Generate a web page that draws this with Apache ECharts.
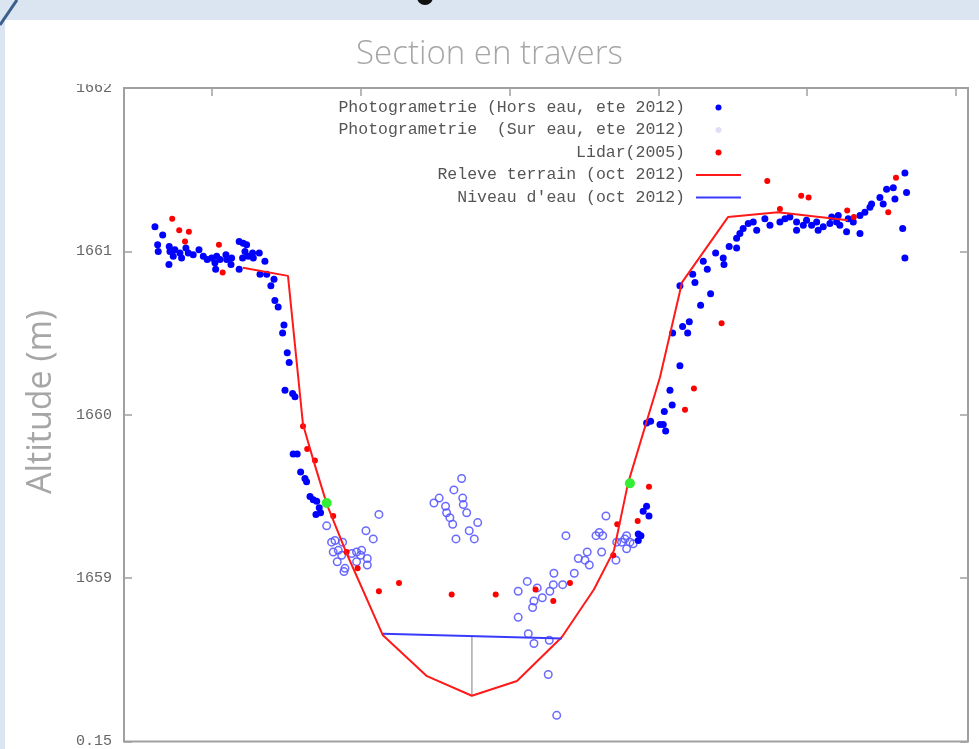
<!DOCTYPE html>
<html>
<head>
<meta charset="utf-8">
<script src="https://cdn.jsdelivr.net/npm/echarts@6/dist/echarts.min.js"></script>
<style>
  html, body { margin: 0; padding: 0; background: #dbe5f1; overflow: hidden; }
  #panel { position: absolute; left: 5px; top: 20px; width: 974px; height: 729px; background: #fff; }
  #chart { position: absolute; left: 0; top: 0; width: 979px; height: 749px; }
</style>
</head>
<body>
<div id="panel"></div>
<div id="chart"></div>
<script>
// cross-section data: x = distance (m), y = altitude (m)
const photoHorsEau = [
  [6.17,1661.15],[6.69,1661.10],[6.35,1661.04],[6.39,1661.00],[7.13,1661.03],[7.18,1661.00],[7.11,1660.92],
  [7.51,1661.01],[7.40,1660.97],[7.85,1660.99],[7.96,1660.96],[8.25,1661.02],[8.41,1660.99],[8.74,1660.98],
  [9.13,1661.01],[9.42,1660.97],[9.68,1660.95],[9.98,1660.96],[10.20,1660.93],[10.32,1660.97],[10.54,1660.95],
  [10.25,1660.89],[10.94,1660.98],[10.99,1660.95],[11.32,1660.96],[11.28,1660.92],[11.83,1661.06],[12.10,1661.05],
  [12.33,1661.04],[12.22,1661.00],[12.06,1660.96],[11.83,1660.89],[12.44,1660.97],[12.73,1660.99],[12.78,1660.96],
  [13.18,1660.99],[13.56,1660.94],[13.23,1660.86],[13.68,1660.86],[14.17,1660.83],[13.96,1660.79],[14.23,1660.70],
  [14.45,1660.66],[14.84,1660.55],[14.75,1660.50],[15.06,1660.38],[15.19,1660.32],[14.91,1660.15],[15.42,1660.13],
  [15.58,1660.11],[15.46,1659.76],[15.73,1659.76],[15.96,1659.65],[16.25,1659.61],[16.36,1659.59],[16.59,1659.50],
  [16.81,1659.48],[17.04,1659.47],[17.21,1659.43],[16.99,1659.39],[17.30,1659.40],
  [38.65,1659.23],[38.83,1659.26],[38.65,1659.27],[39.37,1659.38],[38.98,1659.41],[39.21,1659.44],
  [40.49,1659.90],[40.33,1659.94],[40.11,1659.94],[39.48,1659.96],[39.21,1659.95],[40.40,1660.02],[40.93,1660.06],
  [40.78,1660.15],[41.45,1660.30],[40.96,1660.50],[41.97,1660.50],[41.63,1660.54],[42.08,1660.57],[42.84,1660.67],
  [43.51,1660.74],[41.45,1660.79],[42.46,1660.81],[42.31,1660.86],[43.29,1660.89],[43.02,1660.94],[44.41,1660.92],
  [44.36,1660.96],[43.85,1660.99],[44.76,1661.03],[45.26,1661.02],[45.26,1661.08],[45.48,1661.11],[45.70,1661.14],
  [46.04,1661.17],[46.38,1661.18],[46.61,1661.13],[47.16,1661.20],[47.50,1661.16],[48.17,1661.18],[48.51,1661.20],
  [48.84,1661.21],[49.29,1661.18],[49.29,1661.13],[49.74,1661.16],[49.96,1661.19],[50.30,1661.16],[50.64,1661.18],
  [50.74,1661.13],[51.08,1661.15],[51.53,1661.17],[51.65,1661.21],[51.98,1661.18],[52.09,1661.22],[52.20,1661.16],
  [52.65,1661.12],[52.76,1661.20],[53.10,1661.18],[53.55,1661.11],[53.55,1661.22],[53.88,1661.24],[54.22,1661.27],
  [54.33,1661.29],[54.89,1661.33],[55.11,1661.29],[55.34,1661.38],[55.79,1661.39],[55.90,1661.32],[56.57,1661.48],
  [56.68,1661.36],[56.42,1661.14],[56.57,1660.96]
];
const photoSurEau = [
  [21.22,1659.39],[20.35,1659.29],[20.84,1659.24],[17.71,1659.32],[18.04,1659.22],[18.27,1659.23],[18.78,1659.22],
  [18.15,1659.16],[18.49,1659.17],[18.72,1659.14],[18.42,1659.10],[18.94,1659.06],[18.87,1659.04],[19.39,1659.15],
  [19.72,1659.16],[20.06,1659.17],[19.72,1659.10],[20.44,1659.12],[20.44,1659.08],[19.99,1659.14],
  [24.92,1659.46],[25.27,1659.49],[25.70,1659.44],[25.77,1659.40],[25.99,1659.37],[26.18,1659.33],[26.40,1659.24],
  [26.78,1659.61],[26.26,1659.54],[26.85,1659.49],[26.89,1659.45],[27.12,1659.40],[27.29,1659.29],[27.63,1659.24],
  [27.86,1659.34],
  [30.58,1658.92],[31.19,1658.98],[31.86,1658.94],[32.20,1658.88],[31.64,1658.86],[31.55,1658.82],[30.58,1658.76],
  [32.71,1658.92],[32.98,1659.03],[32.94,1658.96],[33.57,1658.96],[34.35,1659.03],[34.62,1659.12],[35.07,1659.11],
  [35.36,1659.08],[35.22,1659.16],[35.81,1659.26],[36.03,1659.28],[36.26,1659.26],[36.19,1659.16],[36.48,1659.38],
  [33.79,1659.26],[37.15,1659.11],[37.20,1659.22],[37.53,1659.22],[37.87,1659.26],[37.87,1659.18],[37.75,1659.24],
  [38.09,1659.22],[38.31,1659.21],
  [31.26,1658.66],[31.64,1658.60],[32.67,1658.62],[32.60,1658.41],[33.17,1658.16]
];
const lidar = [
  [7.33,1661.20],[7.80,1661.13],[8.45,1661.12],[8.19,1661.06],[10.47,1661.04],[10.72,1660.87],
  [16.12,1659.93],[16.40,1659.79],[16.92,1659.72],[18.15,1659.38],[19.05,1659.16],[19.79,1659.06],
  [21.22,1658.92],[22.57,1658.97],[26.11,1658.90],[29.07,1658.90],[31.75,1658.93],[32.94,1658.86],
  [34.06,1658.97],[36.97,1659.14],[37.24,1659.33],[38.61,1659.35],[39.37,1659.56],[41.79,1660.03],
  [42.39,1660.16],[44.25,1660.56],[47.32,1661.43],[48.17,1661.26],[49.60,1661.34],[50.10,1661.33],
  [52.69,1661.25],[53.14,1661.21],[55.45,1661.24],[55.97,1661.45]
];
const releveTerrain = [
  [12.08,1660.90],[15.11,1660.85],[16.12,1659.94],[16.79,1659.73],[17.73,1659.45],[19.01,1659.16],
  [21.49,1658.65],[24.45,1658.40],[27.47,1658.28],[30.50,1658.37],[33.52,1658.64],[35.67,1658.93],
  [37.02,1659.17],[37.96,1659.58],[40.11,1660.23],[41.59,1660.81],[44.68,1661.21],[48.04,1661.24],
  [52.74,1661.19]
];
const niveauEau = [[21.49,1658.66],[33.52,1658.63]];
const profondeur = [[27.47,1658.65],[27.47,1658.28]];
const berges = [[17.71,1659.46],[38.09,1659.58]];

const yTickValues = [1658, 1659, 1660, 1661, 1662];
const yTickLabels = ['0.15', '1659', '1660', '1661', '1662'];

const names = [
  'Photogrametrie (Hors eau, ete 2012)',
  'Photogrametrie  (Sur eau, ete 2012)',
  'Lidar(2005)',
  'Releve terrain (oct 2012)',
  "Niveau d'eau (oct 2012)"
];

const mono = '"Liberation Mono", "DejaVu Sans Mono", monospace';
const sans = '"Open Sans", sans-serif';
const frameGray = '#a0a0a0';
const noSymbol = { color: 'rgba(0,0,0,0)', borderWidth: 0, opacity: 0 };

const chart = echarts.init(document.getElementById('chart'), null, { renderer: 'canvas' });

chart.setOption({
  animation: false,
  backgroundColor: 'transparent',
  title: {
    text: 'Section en travers',
    left: 'center',
    top: 33,
    textStyle: { fontFamily: sans, fontWeight: 300, fontSize: 33, color: '#a6a6a6' }
  },
  legend: {
    orient: 'vertical',
    align: 'right',
    right: 237,
    top: 99,
    padding: 0,
    itemWidth: 45,
    itemHeight: 6,
    itemGap: 5.5,
    textStyle: { fontFamily: mono, fontSize: 16.5, color: '#555', lineHeight: 16, padding: [0, 6, 0, 0] },
    data: [
      { name: names[0], itemStyle: { opacity: 1 } },
      { name: names[1], itemStyle: { color: '#dcdcf6', borderWidth: 0 } },
      { name: names[2], itemStyle: { opacity: 1 } },
      { name: names[3], itemStyle: noSymbol },
      { name: names[4], itemStyle: noSymbol }
    ]
  },
  grid: {
    left: 124, right: 11, top: 88, bottom: 2,
    show: true, borderColor: frameGray, borderWidth: 2, backgroundColor: 'transparent'
  },
  xAxis: {
    type: 'value',
    position: 'top',
    min: 4.09,
    max: 60.81,
    splitNumber: 5,
    axisLine: { show: false },
    axisTick: { inside: true, length: 8, lineStyle: { color: frameGray, width: 1.5 } },
    axisLabel: { show: false },
    splitLine: { show: false }
  },
  yAxis: [
    {
      type: 'value',
      min: 1658,
      max: 1662,
      interval: 1,
      axisLine: { show: false },
      axisTick: { inside: true, length: 8, lineStyle: { color: frameGray, width: 1.5 } },
      axisLabel: {
        margin: 12,
        fontFamily: mono,
        fontSize: 15,
        color: '#666',
        formatter: v => {
          const i = yTickValues.indexOf(Math.round(v));
          return i >= 0 ? yTickLabels[i] : '';
        }
      },
      splitLine: { show: false }
    },
    {
      type: 'value',
      position: 'right',
      min: 1658,
      max: 1662,
      interval: 1,
      axisLine: { show: false },
      axisTick: { inside: true, length: 8, lineStyle: { color: frameGray, width: 1.5 } },
      axisLabel: { show: false },
      splitLine: { show: false }
    }
  ],
  series: [
    {
      name: names[1],
      type: 'scatter',
      symbol: 'circle',
      symbolSize: 7.5,
      itemStyle: { color: 'rgba(255,255,255,0)', borderColor: '#5a5aff', borderWidth: 1.5, opacity: 0.9 },
      data: photoSurEau,
      z: 2
    },
    {
      name: names[0],
      type: 'scatter',
      symbol: 'circle',
      symbolSize: 7,
      itemStyle: { color: '#0000ff', opacity: 1 },
      data: photoHorsEau,
      z: 3
    },
    {
      name: names[2],
      type: 'scatter',
      symbol: 'circle',
      symbolSize: 6,
      itemStyle: { color: '#ff0000', opacity: 1 },
      data: lidar,
      z: 4
    },
    {
      name: names[3],
      type: 'line',
      symbol: 'none',
      lineStyle: { color: '#ff1a1a', width: 2 },
      itemStyle: { color: '#ff1a1a' },
      data: releveTerrain,
      z: 5
    },
    {
      name: names[4],
      type: 'line',
      symbol: 'none',
      lineStyle: { color: '#3a3aff', width: 2 },
      itemStyle: { color: '#3a3aff' },
      data: niveauEau,
      z: 5
    },
    {
      name: 'profondeur',
      type: 'line',
      symbol: 'none',
      lineStyle: { color: '#aaaaaa', width: 1.5 },
      data: profondeur,
      z: 4
    },
    {
      name: 'berges',
      type: 'scatter',
      symbol: 'circle',
      symbolSize: 10,
      itemStyle: { color: '#33ee33', opacity: 1 },
      data: berges,
      z: 6
    }
  ],
  graphic: [
    // y axis title, placed like the slide text box
    {
      type: 'text', x: 41, y: 402, rotation: Math.PI / 2,
      style: { text: 'Altitude (m)', font: '34px ' + sans, fill: '#a6a6a6', textAlign: 'center', textVerticalAlign: 'middle' }
    },
    // slide decoration: diagonal stroke top-left, fragment of a title letter, mask over top tick label
    { type: 'line', shape: { x1: 17, y1: 0, x2: 0, y2: 25 }, style: { stroke: '#3b5e8c', lineWidth: 3 }, z: 100 },
    { type: 'rect', shape: { x: 417, y: -4, width: 16, height: 9, r: [0, 0, 8, 8] }, style: { fill: '#111' }, z: 100 },
    { type: 'rect', shape: { x: 60, y: 72, width: 60, height: 12 }, style: { fill: '#fff' }, z: 100 }
  ]
});
</script>
</body>
</html>
